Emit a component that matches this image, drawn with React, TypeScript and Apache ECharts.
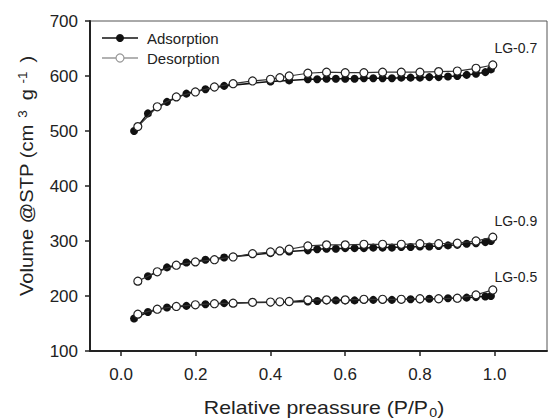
import React, { useEffect, useRef } from "react";
import * as echarts from "echarts";

const xTicks = [0, 0.2, 0.4, 0.6, 0.8, 1.0];

const adsX = [0.035, 0.072, 0.123, 0.175, 0.226, 0.276, 0.40, 0.45, 0.50, 0.525, 0.55, 0.575, 0.60, 0.625, 0.65, 0.675, 0.70, 0.725, 0.75, 0.775, 0.80, 0.825, 0.85, 0.875, 0.90, 0.925, 0.95, 0.975, 0.99];
const desX = [0.045, 0.097, 0.148, 0.199, 0.25, 0.30, 0.352, 0.40, 0.425, 0.45, 0.50, 0.55, 0.60, 0.65, 0.70, 0.75, 0.80, 0.85, 0.90, 0.95, 0.995];

const lg07Ads = [500, 532, 553, 568, 576, 582, 590, 592, 594, 594, 595, 595, 595, 595, 596, 596, 596, 596, 597, 597, 597, 598, 598, 599, 600, 602, 604, 607, 612];
const lg07Des = [508, 544, 562, 571, 580, 586, 591, 594, 597, 600, 605, 607, 606, 606, 607, 607, 607, 608, 609, 614, 620];

const lg09Ads = [null, 236, 252, 261, 266, 270, 278, 281, 283, 285, 286, 286, 287, 287, 287, 288, 288, 288, 289, 289, 290, 290, 291, 292, 293, 295, 296, 298, 300];
const lg09Des = [227, 244, 256, 262, 266, 271, 277, 280, 282, 285, 291, 293, 293, 294, 294, 294, 295, 295, 296, 300, 307];

const lg05Ads = [159, 171, 179, 182, 185, 187, 188.5, 189, 190, 191, 192, 192, 192, 192, 193, 193, 193, 193, 194, 194, 194, 195, 195, 196, 196, 197, 198, 199, 200];
const lg05Des = [167, 176, 181, 184, 186, 187, 188.5, 189, 189.5, 190, 193, 193, 193, 194, 194, 194, 195, 195, 196, 202, 211];

const samples = [
  { name: "LG-0.7", ads: lg07Ads, des: lg07Des, labelOffset: [23, 0] },
  { name: "LG-0.9", ads: lg09Ads, des: lg09Des, labelOffset: [23, 0] },
  { name: "LG-0.5", ads: lg05Ads, des: lg05Des, labelOffset: [23, 4] },
];

const FONT = "'Liberation Sans', Arial, sans-serif";
const TXT = "#222";

function pairs(xs: number[], ys: (number | null)[]) {
  const out: any[] = [];
  xs.forEach((x, i) => {
    if (ys[i] !== null && ys[i] !== undefined) out.push([x, ys[i]]);
  });
  return out;
}

export default function App() {
  const ref = useRef<HTMLDivElement>(null);
  useEffect(() => {
    if (!ref.current) return;
    const chart = echarts.init(ref.current, null, { renderer: "svg" });
    const series: any[] = [];
    samples.forEach((s) => {
      series.push({
        name: "Adsorption",
        type: "line",
        data: pairs(adsX, s.ads),
        symbol: "circle",
        symbolSize: 8,
        showAllSymbol: true,
        itemStyle: { color: "#111" },
        lineStyle: { color: "#111", width: 1.5 },
        z: 2,
      });
      const d = pairs(desX, s.des).map((p, i, arr) =>
        i === arr.length - 1
          ? {
              value: p,
              label: {
                show: true,
                formatter: s.name,
                position: "top",
                offset: s.labelOffset,
                fontSize: 14,
                fontFamily: FONT,
                color: TXT,
              },
            }
          : p
      );
      series.push({
        name: "Desorption",
        type: "line",
        data: d,
        symbol: "circle",
        symbolSize: 8,
        showAllSymbol: true,
        itemStyle: { color: "#fff", borderColor: "#222", borderWidth: 1.2 },
        lineStyle: { color: "#333", width: 1.2 },
        z: 3,
      });
    });

    chart.setOption({
      animation: false,
      grid: { left: 90, right: 1, top: 21, bottom: 68, show: true, borderColor: "#555", borderWidth: 1 },
      xAxis: {
        type: "value",
        min: -0.083,
        max: 1.14,
        splitLine: { show: false },
        axisLine: { onZero: false, lineStyle: { color: "#222", width: 2 } },
        axisTick: { customValues: xTicks, length: 5, lineStyle: { color: "#222", width: 1.5 } },
        axisLabel: {
          customValues: xTicks,
          formatter: (v: number) => v.toFixed(1),
          fontSize: 17,
          fontFamily: FONT,
          color: TXT,
          margin: 15,
        },
      },
      yAxis: {
        type: "value",
        min: 100,
        max: 700,
        interval: 100,
        splitLine: { show: false },
        axisLine: { show: true, onZero: false, lineStyle: { color: "#222", width: 2 } },
        axisTick: { show: true, length: 5, lineStyle: { color: "#222", width: 1.5 } },
        axisLabel: { fontSize: 17, fontFamily: FONT, color: TXT, margin: 12 },
      },
      graphic: [
        { type: "line", shape: { x1: 102, y1: 38, x2: 138, y2: 38 }, style: { stroke: "#111", lineWidth: 1.5 } },
        { type: "circle", shape: { cx: 120, cy: 38, r: 4 }, style: { fill: "#111" } },
        { type: "text", x: 147, y: 38, style: { text: "Adsorption", fontSize: 15, fontFamily: FONT, fill: TXT, verticalAlign: "middle", align: "left" } },
        { type: "line", shape: { x1: 102, y1: 58, x2: 138, y2: 58 }, style: { stroke: "#999", lineWidth: 1.5 } },
        { type: "circle", shape: { cx: 120, cy: 58, r: 4 }, style: { fill: "#fff", stroke: "#999", lineWidth: 1.2 } },
        { type: "text", x: 147, y: 58, style: { text: "Desorption", fontSize: 15, fontFamily: FONT, fill: TXT, verticalAlign: "middle", align: "left" } },
        {
          type: "text",
          x: 324,
          y: 408,
          scaleX: 1.18,
          style: {
            text: "Relative preassure (P/P{sub|0})",
            fontSize: 18,
            fontFamily: FONT,
            fill: TXT,
            align: "center",
            verticalAlign: "middle",
            rich: { sub: { fontSize: 12, fontFamily: FONT, fill: TXT, verticalAlign: "bottom", padding: [9, 0, 0, 1] } },
          },
        },
        {
          type: "text",
          x: 27,
          y: 176,
          rotation: Math.PI / 2,
          scaleX: 1.12,
          style: {
            text: "Volume @STP (cm{sup|3}g{sup2|-1})",
            fontSize: 18,
            fontFamily: FONT,
            fill: TXT,
            align: "center",
            verticalAlign: "middle",
            rich: {
              sup: { fontSize: 12, fontFamily: FONT, fill: TXT, verticalAlign: "top", padding: [0, 9, 9, 6] },
              sup2: { fontSize: 12, fontFamily: FONT, fill: TXT, verticalAlign: "top", padding: [0, 8, 9, 5] },
            },
          },
        },
      ],
      series,
    });
    return () => chart.dispose();
  }, []);
  return <div ref={ref} style={{ width: 548, height: 419, position: "absolute", left: 0, top: 0 }} />;
}
